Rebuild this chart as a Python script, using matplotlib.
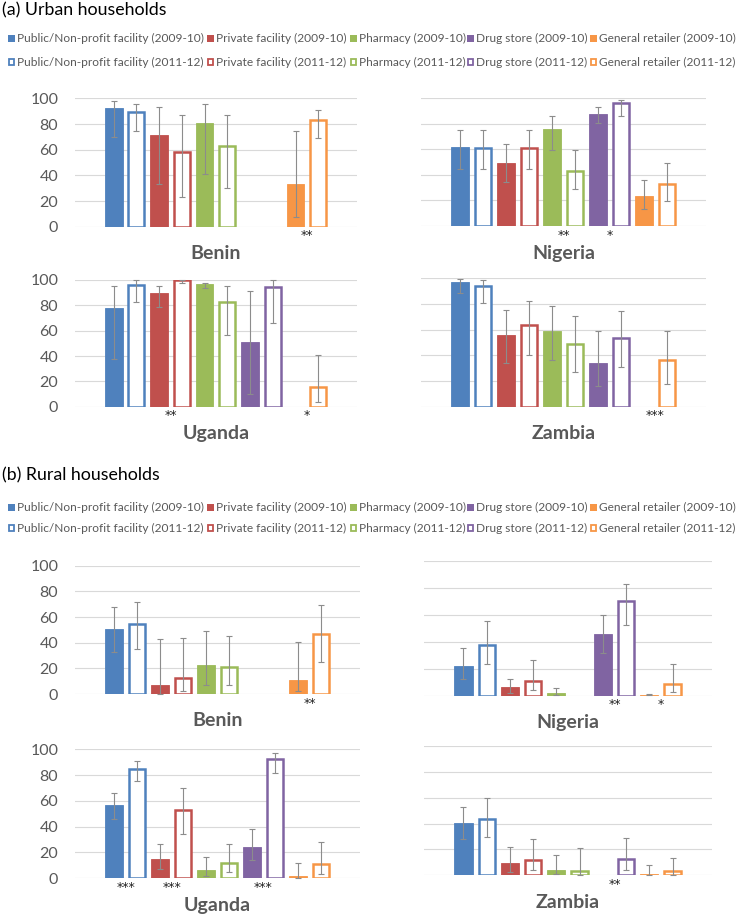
import matplotlib
matplotlib.use("Agg")
import matplotlib.pyplot as plt
import matplotlib.patches as patches
import numpy as np

plt.rcParams['font.family'] = ['Lato', 'DejaVu Sans']

nan = np.nan

# --- data -------------------------------------------------------------
categories = ["Public/Non-profit facility", "Private facility", "Pharmacy",
              "Drug store", "General retailer"]
years = ["2009-10", "2011-12"]
countries = ["Benin", "Nigeria", "Uganda", "Zambia"]

# urban households, % of outlets, with CI ends
urban_2009 = {"Benin": [92.7, 71.9, 80.5, nan, 33.0],
              "Nigeria": [61.6, 49.6, 75.7, 88.0, 23.5],
              "Uganda": [77.6, 89.7, 96.6, 50.8, nan],
              "Zambia": [96.9, 55.8, 59.0, 33.8, nan]}
urban_2009_lo = {"Benin": [69.6, 33.0, 40.8, nan, 7.3],
                 "Nigeria": [44.6, 34.7, 59.8, 80.4, 13.6],
                 "Uganda": [37.4, 78.4, 93.4, 9.7, nan],
                 "Zambia": [88.3, 33.8, 36.4, 15.8, nan]}
urban_2009_hi = {"Benin": [98.4, 93.0, 96.0, nan, 74.5],
                 "Nigeria": [75.2, 64.0, 85.9, 93.5, 36.3],
                 "Uganda": [95.3, 95.3, 97.9, 91.0, nan],
                 "Zambia": [99.2, 75.3, 78.4, 58.7, nan]}

urban_2011 = {"Benin": [89.1, 58.4, 63.1, nan, 82.9],
              "Nigeria": [60.8, 60.8, 43.1, 96.1, 33.2],
              "Uganda": [96.0, 99.7, 82.6, 94.7, 15.3],
              "Zambia": [94.0, 63.6, 48.6, 53.2, 36.1]}
urban_2011_lo = {"Benin": [75.0, 23.4, 29.9, nan, 69.1],
                 "Nigeria": [44.4, 44.4, 28.7, 85.9, 19.8],
                 "Uganda": [82.9, 97.4, 56.3, 66.3, 3.9],
                 "Zambia": [80.5, 40.0, 26.8, 31.2, 17.4]}
urban_2011_hi = {"Benin": [95.8, 86.8, 87.3, nan, 91.4],
                 "Nigeria": [75.2, 74.9, 59.8, 99.0, 49.6],
                 "Uganda": [99.7, 99.7, 95.3, 99.7, 40.5],
                 "Zambia": [98.4, 82.0, 70.6, 74.3, 59.2]}

# rural households
rural_2009 = {"Benin": [50.6, 7.3, 22.9, nan, 11.2],
              "Nigeria": [22.0, 6.2, 1.7, 45.5, 0.7],
              "Uganda": [56.5, 15.0, 6.0, 23.8, 1.8],
              "Zambia": [40.2, 9.3, 4.4, nan, 1.3]}
rural_2009_lo = {"Benin": [32.5, 0.0, 7.3, nan, 2.1],
                 "Nigeria": [12.1, 2.2, 0.7, 31.9, 0.5],
                 "Uganda": [45.6, 7.3, 1.6, 13.7, 0.0],
                 "Zambia": [27.8, 2.8, 0.8, nan, 0.5]}
rural_2009_hi = {"Benin": [67.5, 42.9, 49.4, nan, 40.5],
                 "Nigeria": [35.1, 12.1, 5.4, 59.7, 0.9],
                 "Uganda": [65.8, 26.4, 16.1, 38.1, 11.9],
                 "Zambia": [52.6, 21.6, 15.5, nan, 8.2]}

rural_2011 = {"Benin": [54.5, 12.7, 20.8, nan, 46.5],
              "Nigeria": [37.9, 10.9, nan, 70.0, 8.4],
              "Uganda": [85.0, 52.8, 11.4, 92.5, 10.9],
              "Zambia": [43.8, 11.9, 3.1, 12.6, 3.1]}
rural_2011_lo = {"Benin": [35.3, 2.6, 7.3, nan, 24.7],
                 "Nigeria": [23.3, 4.0, nan, 52.7, 2.5],
                 "Uganda": [75.1, 34.2, 4.4, 81.9, 3.1],
                 "Zambia": [29.4, 4.4, 0.3, 4.4, 0.5]}
rural_2011_hi = {"Benin": [71.7, 43.4, 45.2, nan, 69.1],
                 "Nigeria": [55.2, 26.2, nan, 82.9, 23.3],
                 "Uganda": [90.9, 69.7, 26.7, 97.4, 27.7],
                 "Zambia": [59.5, 28.4, 21.4, 29.1, 13.1]}

# significance stars under a category pair (category index -> stars)
urban_stars = {"Benin": {4: "**"}, "Nigeria": {2: "**", 3: "*"},
               "Uganda": {1: "**", 4: "*"}, "Zambia": {4: "***"}}
rural_stars = {"Benin": {4: "**"}, "Nigeria": {3: "**", 4: "*"},
               "Uganda": {0: "***", 1: "***", 3: "***"}, "Zambia": {3: "**"}}

yticks = [0, 20, 40, 60, 80, 100]

# --- styling ----------------------------------------------------------
colors = ['#4F81BD', '#C0504D', '#9BBB59', '#8064A2', '#F79646']
W, H = 752, 918
GREY = '#595959'

fig = plt.figure(figsize=(W / 100, H / 100), dpi=100)

ov = fig.add_axes([0, 0, 1, 1])
ov.set_xlim(0, W)
ov.set_ylim(H, 0)
ov.axis('off')
ov.patch.set_alpha(0)


def px_rect(left, top, right, bottom):
    return [left / W, 1 - bottom / H, (right - left) / W, (bottom - top) / H]


def draw_panel(rect, country, v09, lo09, hi09, v11, lo11, hi11, stars, show_ticks):
    ax = fig.add_axes(px_rect(*rect))
    n = len(categories)
    x09 = np.arange(n) * 2
    x11 = x09 + 1
    a09 = np.array(v09[country]); a11 = np.array(v11[country])
    e09 = [a09 - np.array(lo09[country]), np.array(hi09[country]) - a09]
    e11 = [a11 - np.array(lo11[country]), np.array(hi11[country]) - a11]
    bw = 0.78
    ax.bar(x09, a09, width=bw, color=colors, edgecolor=colors, linewidth=0.6, zorder=3)
    ax.bar(x11, a11, width=bw - 0.08, color='white', edgecolor=colors, linewidth=1.8, zorder=3)
    for xs, a, e in [(x09, a09, e09), (x11, a11, e11)]:
        ax.errorbar(xs, a, yerr=e, fmt='none', ecolor='#8C8C8C', elinewidth=0.8,
                    capsize=2.2, capthick=0.8, zorder=4, clip_on=False)
    for i, s in stars[country].items():
        ax.annotate(s, xy=(2 * i + 0.5, 0), xytext=(0, -2), textcoords='offset points',
                    ha='center', va='top', fontsize=9, color='#222222',
                    family='DejaVu Sans', annotation_clip=False)
    ax.set_xlim(-1.7, 2 * n - 1 + 1.7)
    ax.set_ylim(0, 100)
    ax.set_yticks(yticks)
    ax.grid(axis='y', color='#D9D9D9', linewidth=0.8, zorder=0)
    ax.set_axisbelow(True)
    for sp in ax.spines.values():
        sp.set_visible(False)
    ax.tick_params(axis='both', length=0)
    ax.set_xticks([])
    ax.tick_params(axis='y', labelsize=11.5, labelcolor=GREY, pad=12, labelleft=show_ticks)
    cx = (rect[0] + rect[2]) / 2
    ov.text(cx, rect[3] + 27, country, ha='center', va='center', fontsize=14,
            fontweight='bold', color=GREY)
    return ax


def draw_legend(y_title, title, y_rows):
    ov.text(2, y_title, title, ha='left', va='center', fontsize=12.8, color='black')
    xs = [8, 207, 350, 467, 590]
    for r, (yr, y) in enumerate(zip(years, y_rows)):
        for c, (cat, x) in enumerate(zip(categories, xs)):
            if r == 0:
                sq = patches.Rectangle((x, y - 3.5), 7, 7, facecolor=colors[c], edgecolor='none')
            else:
                sq = patches.Rectangle((x + 0.6, y - 2.9), 5.8, 5.8, facecolor='white',
                                       edgecolor=colors[c], linewidth=1.3)
            ov.add_patch(sq)
            ov.text(x + 9, y, f"{cat} ({yr})", ha='left', va='center', fontsize=8.6, color=GREY)


draw_legend(10, "(a) Urban households", [38, 62])
draw_legend(475, "(b) Rural households", [507, 528])

urban_rects = {"Benin": (75, 98.5, 357, 226.7), "Nigeria": (421, 98.3, 706, 226),
               "Uganda": (75, 280, 357, 406.7), "Zambia": (421, 278.3, 706, 406.7)}
rural_rects = {"Benin": (75, 565.7, 360, 694), "Nigeria": (424, 561, 712, 695.7),
               "Uganda": (75, 749.3, 360, 878), "Zambia": (424, 746, 712, 875.3)}

for k, c in enumerate(countries):
    draw_panel(urban_rects[c], c, urban_2009, urban_2009_lo, urban_2009_hi,
               urban_2011, urban_2011_lo, urban_2011_hi, urban_stars, k % 2 == 0)
    draw_panel(rural_rects[c], c, rural_2009, rural_2009_lo, rural_2009_hi,
               rural_2011, rural_2011_lo, rural_2011_hi, rural_stars, k % 2 == 0)

fig.savefig("out.png", dpi=100, facecolor='white')
